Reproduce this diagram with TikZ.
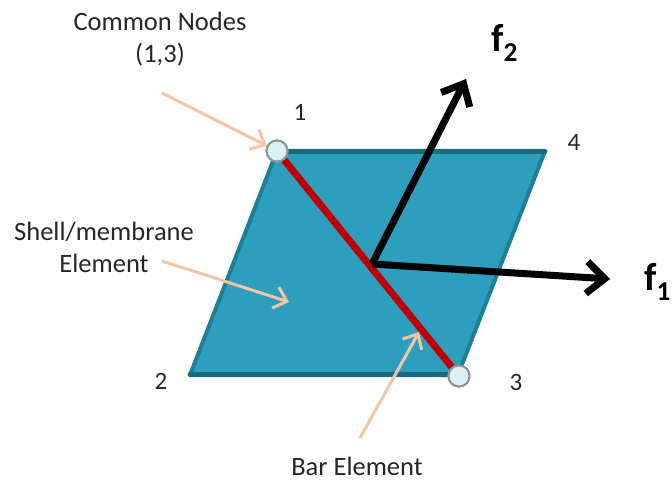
\documentclass[tikz,border=0pt]{standalone}
\usepackage{fontspec}
\setmainfont{Carlito}
\usetikzlibrary{arrows.meta}
\definecolor{shellfill}{HTML}{2C9EBE}
\definecolor{shelledge}{HTML}{1F7F99}
\definecolor{shelldark}{HTML}{1A6A80}
\definecolor{barred}{HTML}{C00000}
\definecolor{leadpeach}{HTML}{F6C5A5}
\definecolor{nodegray}{HTML}{8C9696}
\definecolor{nodefill}{HTML}{DDF0F5}
\definecolor{textdark}{HTML}{262626}
\tikzset{
  lbl/.style={font=\fontsize{26.5}{32}\selectfont,text=textdark,align=center,inner sep=0pt},
  numlbl/.style={font=\fontsize{25}{30}\selectfont,text=textdark,inner sep=0pt},
  flbl/.style={font=\fontsize{39}{39}\selectfont\bfseries,text=black,inner sep=0pt},
  ndcirc/.style={circle,draw=nodegray,fill=nodefill,line width=2pt,minimum size=21pt,inner sep=0pt},
  ar/.style={-{Straight Barb[length=18pt,width=32pt,line width=7pt]},draw=black,line width=7pt},
  lead/.style={-{Straight Barb[length=12pt,width=22pt,line width=3pt]},draw=leadpeach,line width=3pt},
}
\begin{document}
\begin{tikzpicture}[x=1pt,y=-1pt]
  \useasboundingbox (0,0) rectangle (672,481);
  % shell element
  \draw[shelledge,fill=shellfill,line width=4pt,line join=round] (277,151) -- (545,151) -- (458,375) -- (190,375) -- cycle;
  \draw[shelldark,line width=5pt,line cap=round] (277,152) -- (545,152);
  \draw[shelldark,line width=5pt,line cap=round] (190,374) -- (458,374);
  % common nodes and centre
  \node[ndcirc] (n1) at (277,151) {};
  \node[ndcirc] (n3) at (459,376) {};
  \coordinate (mid) at (372,264);
  \coordinate (f1tip) at (610,279);
  \coordinate (f2tip) at (466,79);
  % bar element
  \draw[barred,line width=7pt] (n1) -- (n3);
  \draw[ar] (mid) -- (f2tip);
  \draw[ar] (mid) -- (f1tip);
  \node[ndcirc] at (n1) {};
  \node[ndcirc] at (n3) {};
  % labels
  \node[lbl] (common) at (160,39) {Common Nodes\\(1,3)};
  \node[lbl] (shell) at (104,247) {Shell/membrane\\Element};
  \node[lbl] (bar) at (357,466) {Bar Element};
  \node[numlbl] (l1) at (300,112) {1};
  \node[numlbl] (l2) at (161,381) {2};
  \node[numlbl] (l3) at (516,382) {3};
  \node[numlbl] (l4) at (574,142) {4};
  \node[flbl,anchor=west] (f2) at (491,43) {f\textsubscript{2}};
  \node[flbl,anchor=west] (f1) at (644,282) {f\textsubscript{1}};
  % lead arrows
  \coordinate (c1) at (162,93);
  \coordinate (c2) at (162,261);
  \coordinate (c3) at (360,438);
  \coordinate (shelltip) at (289,302);
  \coordinate (bartip) at (419,332);
  \draw[lead] (c1) -- (n1);
  \draw[lead] (c2) -- (shelltip);
  \draw[lead] (c3) -- (bartip);
\end{tikzpicture}
\end{document}
